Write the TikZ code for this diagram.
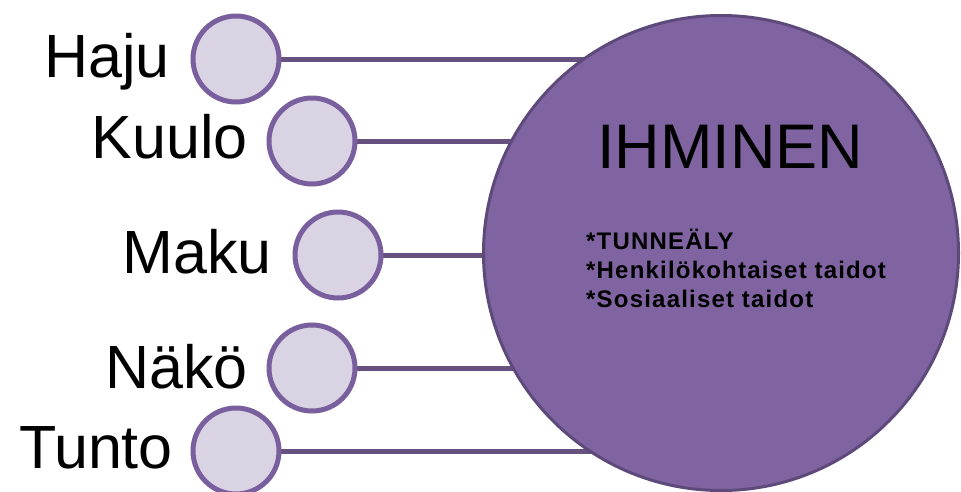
\documentclass[tikz,border=0pt]{standalone}
\usepackage{fontspec}
\setmainfont{Liberation Sans}
\newfontfamily\spacedbold[LetterSpace=5,BoldFont={Liberation Sans Bold}]{Liberation Sans}
\usetikzlibrary{backgrounds}

\definecolor{bigfill}{HTML}{8064A2}
\definecolor{bigedge}{HTML}{5E4A7A}
\definecolor{smallfill}{HTML}{D9D3E3}
\definecolor{smalledge}{HTML}{7A5F9E}
\definecolor{linkcol}{HTML}{67527F}

\tikzset{
  sense/.style={circle, draw=smalledge, fill=smallfill, line width=5pt,
    minimum size=86pt, inner sep=0pt},
  senselabel/.style={anchor=base east, inner sep=0pt,
    font=\fontsize{61}{61}\selectfont},
  human/.style={circle, draw=bigedge, fill=bigfill, line width=3pt,
    minimum size=475pt, inner sep=0pt},
  link/.style={draw=linkcol, line width=5pt},
}

\begin{document}
\begin{tikzpicture}[x=1pt, y=-1pt]
  \useasboundingbox (0,0) rectangle (961,491);

  % central circle
  \node[human] (ihminen) at (721,253) {};
  \node[anchor=base, inner sep=0pt, font=\fontsize{63}{63}\selectfont]
    (title) at (730,168) {IHMINEN};
  % base anchor of a multi-line node sits on its last line
  \node[anchor=base west, inner sep=0pt, align=left,
        font=\spacedbold\bfseries\fontsize{24}{29}\selectfont]
    (traits) at (586,307) {*TUNNEÄLY\\*Henkilökohtaiset taidot\\*Sosiaaliset taidot};

  % the five senses
  \node[sense] (haju)  at (236,59)  {};
  \node[sense] (kuulo) at (312,141) {};
  \node[sense] (maku)  at (338,255) {};
  \node[sense] (nako)  at (312,368) {};
  \node[sense] (tunto) at (236,451) {};

  \node[senselabel] (lhaju)  at (170,77)  {Haju};
  \node[senselabel] (lkuulo) at (248,158) {Kuulo};
  \node[senselabel] (lmaku)  at (272,273) {Maku};
  \node[senselabel] (lnako)  at (248,388) {Näkö};
  \node[senselabel] (ltunto) at (173,468) {Tunto};

  % connectors run behind the circles into the centre
  \begin{scope}[on background layer]
    \foreach \s in {haju,kuulo,maku,nako,tunto}
      \draw[link] (\s.center) -- (\s -| ihminen);
  \end{scope}
\end{tikzpicture}
\end{document}
